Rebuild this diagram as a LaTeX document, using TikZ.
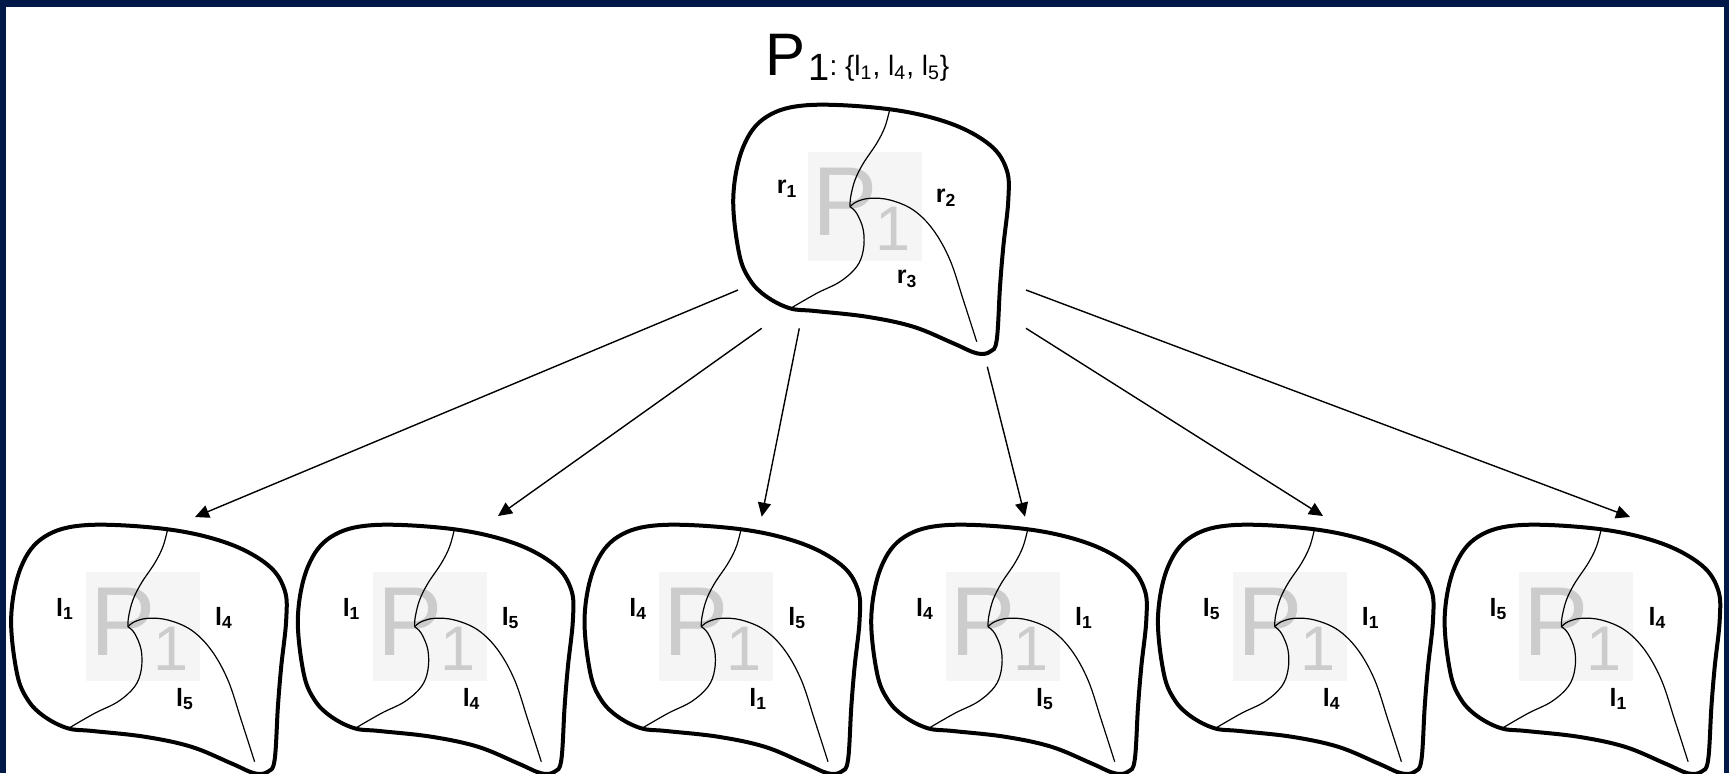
\documentclass[tikz,border=0pt]{standalone}
\usepackage{fontspec}
\setmainfont{Liberation Sans}
\usetikzlibrary{arrows.meta}
\definecolor{navy}{RGB}{1,25,72}
\definecolor{wmgray}{RGB}{204,204,204}
\definecolor{wmboxc}{RGB}{245,245,245}
\tikzset{
  outline/.style={line width=2pt, line join=round},
  innerline/.style={line width=0.6pt},
  conn/.style={line width=0.7pt, -{Triangle[length=7pt,width=6.5pt]}},
  lbl/.style={font=\fontsize{12.5pt}{14pt}\selectfont\bfseries, inner sep=0pt},
  wmP/.style={font=\fontsize{49pt}{49pt}\selectfont, text=wmgray, inner sep=0pt, anchor=base west},
  wmone/.style={font=\fontsize{31.5pt}{31.5pt}\selectfont, text=wmgray, inner sep=0pt, anchor=base west},
  pics/region/.style args={#1/#2/#3}{code={
    \fill[wmboxc] (78,49) rectangle (192,158);
    \node[wmP] (-wp) at (82,132) {P};
    \node[wmone] (-wo) at (145,147) {1};
    \node[lbl] (-a) at (57,86) {#1};
    \node[lbl] (-b) at (216,95) {#2};
    \node[lbl] (-c) at (177,176) {#3};
    \draw[innerline] plot[smooth, tension=0.6] coordinates {(160,5.3) (155,23.7) (146.7,40.3) (133.3,60.3) (125,77) (120.7,93.7) (120,103.7)};
    \draw[innerline] plot[smooth, tension=0.6] coordinates {(120,103.7) (126.7,98.7) (140,95.3) (160,97) (183.3,107) (203.3,127) (220,157) (233.3,197) (246.7,238.7)};
    \draw[innerline] plot[smooth, tension=0.6] coordinates {(120,103.7) (126.7,110.3) (133.3,127) (133.3,147) (126.7,163.7) (110,178.7) (86.7,190.3) (62,204.5)};
    \draw[outline] plot[smooth cycle, tension=0.6] coordinates {(80,2) (160,6.3) (220,20.3) (260,42) (276.7,67) (278.3,97) (273.3,143.7) (270,183.7) (266.7,237) (260,248.7) (246.7,250.3) (223.3,240.3) (183.3,223.7) (136.7,213.7) (85,208) (60,205.3) (36.7,193.7) (20,177) (9,150) (3.3,93.7) (13.3,43.7) (36.7,13.7)};
  }}
}
\begin{document}
\begin{tikzpicture}[x=0.5pt,y=-0.5pt]
\useasboundingbox (0,0) rectangle (1729,773);
\fill[navy] (0,0) rectangle (1729,773);
\fill[white] (6,7) rectangle (1724,780);

\node[anchor=base west, inner sep=0pt] (title) at (765,75) {{\fontsize{30pt}{30pt}\selectfont P}\kern1.5pt\raisebox{-2.5pt}{\fontsize{19pt}{19pt}\selectfont 1}{\fontsize{14pt}{14pt}\selectfont :\ \{l\textsubscript{1},\ l\textsubscript{4},\ l\textsubscript{5}\}}};

\pic (top) at (730,103) {region={r\textsubscript{1}/r\textsubscript{2}/r\textsubscript{3}}};
\pic (b1) at (7.9,523) {region={l\textsubscript{1}/l\textsubscript{4}/l\textsubscript{5}}};
\pic (b2) at (294.6,523) {region={l\textsubscript{1}/l\textsubscript{5}/l\textsubscript{4}}};
\pic (b3) at (581.3,523) {region={l\textsubscript{4}/l\textsubscript{5}/l\textsubscript{1}}};
\pic (b4) at (868,523) {region={l\textsubscript{4}/l\textsubscript{1}/l\textsubscript{5}}};
\pic (b5) at (1154.7,523) {region={l\textsubscript{5}/l\textsubscript{1}/l\textsubscript{4}}};
\pic (b6) at (1441.4,523) {region={l\textsubscript{5}/l\textsubscript{4}/l\textsubscript{1}}};

\coordinate (s1) at (738,290);    \coordinate (e1) at (195,517);
\coordinate (s2) at (761.7,328.3); \coordinate (e2) at (498,516);
\coordinate (s3) at (799.3,328.3); \coordinate (e3) at (761.7,516.7);
\coordinate (s4) at (987.3,366.7); \coordinate (e4) at (1025,516.7);
\coordinate (s5) at (1026,328.3);  \coordinate (e5) at (1323,516);
\coordinate (s6) at (1026,290);    \coordinate (e6) at (1630,517);
\foreach \i in {1,...,6} {\draw[conn] (s\i) -- (e\i);}
\end{tikzpicture}
\end{document}
